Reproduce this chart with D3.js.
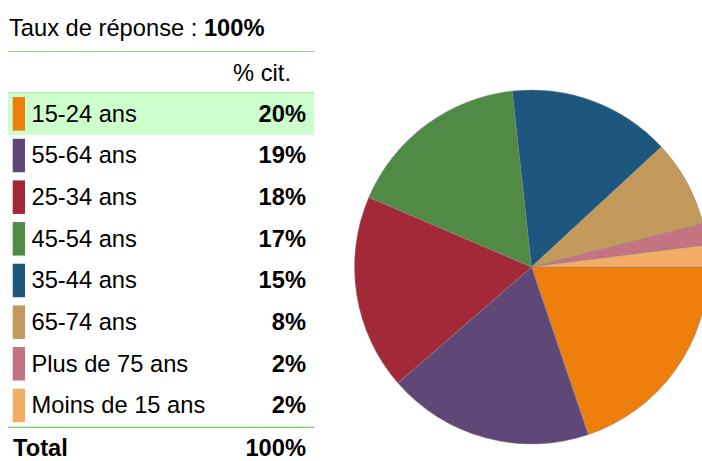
<!DOCTYPE html>
<html>
<head>
<meta charset="utf-8">
<script src="https://cdn.jsdelivr.net/npm/d3@7"></script>
<style>
  html, body { margin: 0; padding: 0; background: #fff; }
  svg { display: block; font-family: "Liberation Sans", Arial, sans-serif; }
</style>
</head>
<body>
<svg id="chart" width="702" height="461"></svg>
<script>
// Age groups and their share of responses (% cit.)
const categories = ["15-24 ans", "55-64 ans", "25-34 ans", "45-54 ans", "35-44 ans", "65-74 ans", "Plus de 75 ans", "Moins de 15 ans"];
const values = [20, 19, 18, 17, 15, 8, 2, 2];
const valueLabels = ["20%", "19%", "18%", "17%", "15%", "8%", "2%", "2%"];
const colors = ["#EF7F0C", "#5F4878", "#A32838", "#508A45", "#1D577D", "#C39A5B", "#C37480", "#F5AD65"];
const titleText = "Taux de réponse : ";
const titleValue = "100%";
const columnHeader = "% cit.";
const totalLabel = "Total";
const totalValue = "100%";

const svg = d3.select("#chart");
const fs = 23.7;

// ---- Table on the left ----
const tableLeft = 8, tableRight = 314;
const rowTop0 = 93.3, rowH = 41.66;

svg.append("text")
  .attr("x", 9).attr("y", 36)
  .attr("font-size", fs).attr("fill", "#000")
  .call(t => {
    t.append("tspan").text(titleText);
    t.append("tspan").attr("font-weight", "bold").text(titleValue);
  });

svg.append("line")
  .attr("x1", tableLeft).attr("x2", tableRight)
  .attr("y1", 51.5).attr("y2", 51.5)
  .attr("stroke", "#93d884").attr("stroke-width", 1.2);

svg.append("text")
  .attr("x", 291).attr("y", 81)
  .attr("text-anchor", "end")
  .attr("font-size", fs).attr("fill", "#000")
  .text(columnHeader);

// first row highlighted
svg.append("rect")
  .attr("x", tableLeft).attr("y", rowTop0)
  .attr("width", tableRight - tableLeft).attr("height", rowH)
  .attr("fill", "#CCFFCC");

svg.append("line")
  .attr("x1", tableLeft).attr("x2", tableRight)
  .attr("y1", 92.6).attr("y2", 92.6)
  .attr("stroke", "#b4e8b0").attr("stroke-width", 1.2);

const rows = svg.append("g").selectAll("g")
  .data(categories.map((c, i) => ({ c, v: values[i], label: valueLabels[i], color: colors[i], i })))
  .join("g")
  .attr("transform", d => `translate(0,${rowTop0 + d.i * rowH})`);

rows.append("rect")
  .attr("x", 12.7).attr("y", 3.8)
  .attr("width", 12.3).attr("height", 33.5)
  .attr("fill", d => d.color);

rows.append("text")
  .attr("x", 31.5).attr("y", 28.4)
  .attr("font-size", fs).attr("fill", "#000")
  .text(d => d.c);

rows.append("text")
  .attr("x", 306).attr("y", 28.4)
  .attr("text-anchor", "end")
  .attr("font-size", fs).attr("font-weight", "bold").attr("fill", "#000")
  .text(d => d.label);

svg.append("line")
  .attr("x1", tableLeft).attr("x2", tableRight)
  .attr("y1", 427.3).attr("y2", 427.3)
  .attr("stroke", "#6fd05a").attr("stroke-width", 1.2);

svg.append("text")
  .attr("x", 13).attr("y", 456)
  .attr("font-size", fs).attr("font-weight", "bold").attr("fill", "#000")
  .text(totalLabel);

svg.append("text")
  .attr("x", 306).attr("y", 456)
  .attr("text-anchor", "end")
  .attr("font-size", fs).attr("font-weight", "bold").attr("fill", "#000")
  .text(totalValue);

// ---- Pie on the right: starts at 3 o'clock, runs clockwise ----
const cx = 531.5, cy = 267, radius = 177;

const pie = d3.pie()
  .value(d => d.v)
  .sort(null)
  .startAngle(Math.PI / 2)
  .endAngle(Math.PI / 2 + 2 * Math.PI);

const arc = d3.arc().innerRadius(0).outerRadius(radius);

const pieData = pie(categories.map((c, i) => ({ c, v: values[i], color: colors[i] })));

svg.append("g")
  .attr("transform", `translate(${cx},${cy})`)
  .selectAll("path")
  .data(pieData)
  .join("path")
  .attr("d", arc)
  .attr("fill", d => d.data.color)
  .attr("stroke", "#8a8a8a")
  .attr("stroke-opacity", 0.55)
  .attr("stroke-width", 0.8);
</script>
</body>
</html>
